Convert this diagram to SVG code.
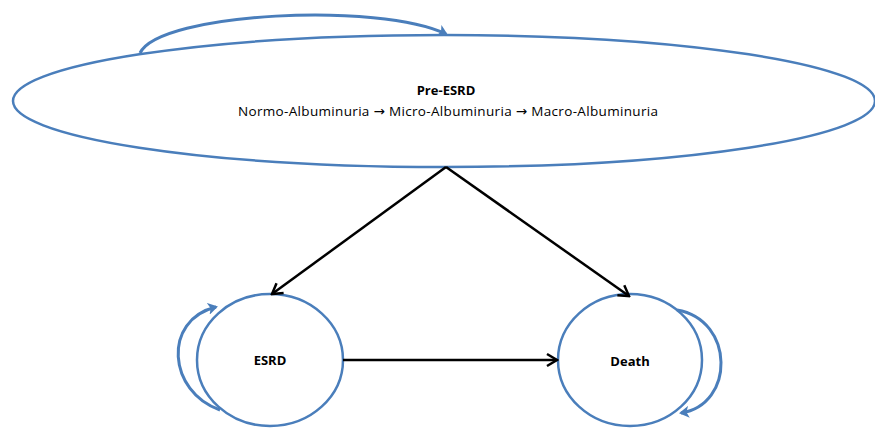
<svg xmlns="http://www.w3.org/2000/svg" width="875" height="428" viewBox="0 0 875 428">
<style>
.node{fill:#fff;stroke:#4a7ebb;stroke-width:2.5}
.loop{fill:none;stroke:#4a7ebb;stroke-width:3;marker-end:url(#bh)}
.edge{fill:none;stroke:#000;stroke-width:2.5;marker-end:url(#kh)}
text{font-family:"Open Sans","Liberation Sans",sans-serif;fill:#000;text-anchor:middle}
.b{font-weight:bold;font-size:13px}
.r{font-size:13.5px}
.arr{font-family:"DejaVu Sans",sans-serif}
</style>
<defs>
<marker id="bh" markerWidth="12" markerHeight="12" refX="8" refY="6" orient="auto" markerUnits="userSpaceOnUse" viewBox="0 0 12 12">
<path d="M0,0 L10,6 L0,12 L2.5,6 Z" fill="#4a7ebb"/>
</marker>
<marker id="kh" markerWidth="16" markerHeight="16" refX="14" refY="8" orient="auto" markerUnits="userSpaceOnUse" viewBox="0 0 16 16">
<path d="M4,2 L14,8 L4,14" fill="none" stroke="#000" stroke-width="2.5"/>
</marker>
</defs>
<g id="pre-esrd">
<ellipse class="node" cx="444" cy="101" rx="431" ry="66"/>
<text class="b" x="446" y="95">Pre-ESRD</text>
<text class="r" x="448" y="116" textLength="420" lengthAdjust="spacing">Normo-Albuminuria <tspan class="arr">→</tspan> Micro-Albuminuria <tspan class="arr">→</tspan> Macro-Albuminuria</text>
</g>
<g id="esrd">
<ellipse class="node" cx="270" cy="360" rx="73" ry="66"/>
<text class="b" x="270" y="365">ESRD</text>
</g>
<g id="death">
<ellipse class="node" cx="630" cy="360" rx="72" ry="66"/>
<text class="b" x="630" y="366">Death</text>
</g>
<g id="connectors">
<path class="loop" d="M140,53 C160,12 380,2 446,34"/>
<path class="loop" d="M220,410 C168,392 162,320 216,307"/>
<path class="loop" d="M677,310 C735,320 735,405 681,413"/>
<path class="edge" d="M446,167 L272,294"/>
<path class="edge" d="M446,167 L629,296"/>
<path class="edge" d="M343,360 L557,360"/>
</g>
</svg>
